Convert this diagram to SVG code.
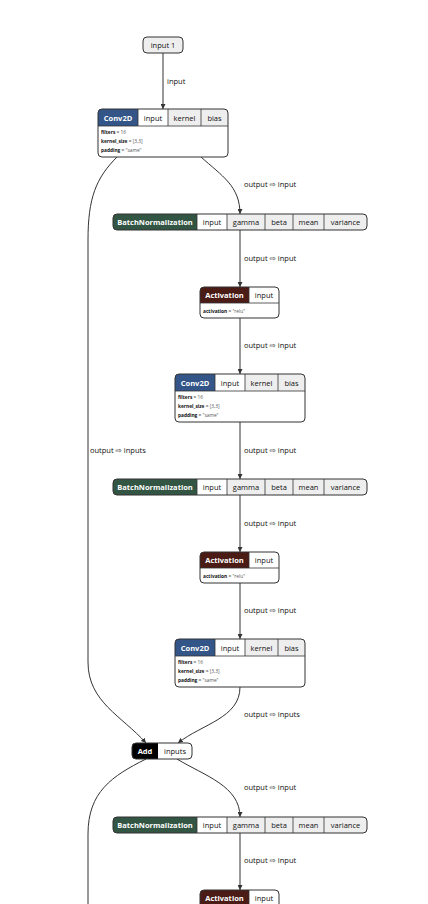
<svg xmlns="http://www.w3.org/2000/svg" width="428" height="904" viewBox="0 0 428 904">
  <style>
    text { font-family: "Open Sans", "Noto Sans", "DejaVu Sans", sans-serif; }
    .border { fill: none; stroke: #333; stroke-width: 1; }
    .hdr { font-size: 7.5px; font-weight: bold; fill: #fff; text-anchor: middle; }
    .cell { font-size: 7.5px; fill: #111; text-anchor: middle; }
    .in { fill: #fff; }
    .const { fill: #eee; }
    .sep { stroke: #333; stroke-width: 0.8; }
    .attr { font-size: 4.8px; fill: #555; }
    .attr tspan.k { font-weight: bold; fill: #111; }
    .edge { fill: none; stroke: #333; stroke-width: 1; }
    .lbl { font-size: 7.5px; fill: #111; }
    .conv { fill: #335588; }
    .bn { fill: #335544; }
    .act { fill: #4b1b16; }
    .add { fill: #000; }
  </style>
  <defs>
    <marker id="arrow" viewBox="0 0 10 10" refX="10" refY="5" markerWidth="5" markerHeight="5" orient="auto" markerUnits="userSpaceOnUse">
      <path d="M0,0 L10,5 L0,10 z" fill="#333"/>
    </marker>
    <clipPath id="clip-conv"><rect x="0" y="0" width="130" height="48" rx="4"/></clipPath>
    <clipPath id="clip-bn"><rect x="0" y="0" width="254" height="16" rx="4"/></clipPath>
    <clipPath id="clip-act"><rect x="0" y="0" width="79" height="31" rx="4"/></clipPath>
    <clipPath id="clip-add"><rect x="0" y="0" width="60" height="16" rx="4"/></clipPath>

    <!-- Conv2D block: header cells plus attribute list -->
    <g id="conv-body">
      <g clip-path="url(#clip-conv)">
        <rect x="0" y="0" width="130" height="48" fill="#fff"/>
        <rect class="conv" x="0" y="0" width="40" height="17"/>
        <rect class="in" x="40" y="0" width="30" height="17"/>
        <rect class="const" x="70" y="0" width="33" height="17"/>
        <rect class="const" x="103" y="0" width="27" height="17"/>
        <line class="sep" x1="40" y1="0" x2="40" y2="17"/>
        <line class="sep" x1="70" y1="0" x2="70" y2="17"/>
        <line class="sep" x1="103" y1="0" x2="103" y2="17"/>
        <line class="sep" x1="0" y1="17" x2="130" y2="17"/>
      </g>
      <rect class="border" x="0" y="0" width="130" height="48" rx="4"/>
      <text class="hdr" x="20" y="11.5">Conv2D</text>
      <text class="cell" x="55" y="11.5">input</text>
      <text class="cell" x="86.5" y="11.5">kernel</text>
      <text class="cell" x="116.5" y="11.5">bias</text>
      <text class="attr" x="3" y="25"><tspan class="k">filters</tspan> = 16</text>
      <text class="attr" x="3" y="34"><tspan class="k">kernel_size</tspan> = [3,3]</text>
      <text class="attr" x="3" y="43"><tspan class="k">padding</tspan> = "same"</text>
    </g>

    <!-- BatchNormalization block -->
    <g id="bn-body">
      <g clip-path="url(#clip-bn)">
        <rect class="bn" x="0" y="0" width="84" height="16"/>
        <rect class="in" x="84" y="0" width="30" height="16"/>
        <rect class="const" x="114" y="0" width="140" height="16"/>
        <line class="sep" x1="84" y1="0" x2="84" y2="16"/>
        <line class="sep" x1="114" y1="0" x2="114" y2="16"/>
        <line class="sep" x1="152" y1="0" x2="152" y2="16"/>
        <line class="sep" x1="180" y1="0" x2="180" y2="16"/>
        <line class="sep" x1="211" y1="0" x2="211" y2="16"/>
      </g>
      <rect class="border" x="0" y="0" width="254" height="16" rx="4"/>
      <text class="hdr" x="42" y="11">BatchNormalization</text>
      <text class="cell" x="99" y="11">input</text>
      <text class="cell" x="133" y="11">gamma</text>
      <text class="cell" x="166" y="11">beta</text>
      <text class="cell" x="195.5" y="11">mean</text>
      <text class="cell" x="232.5" y="11">variance</text>
    </g>

    <!-- Activation block -->
    <g id="act-body">
      <g clip-path="url(#clip-act)">
        <rect x="0" y="0" width="79" height="31" fill="#fff"/>
        <rect class="act" x="0" y="0" width="49" height="16"/>
        <rect class="in" x="49" y="0" width="30" height="16"/>
        <line class="sep" x1="49" y1="0" x2="49" y2="16"/>
        <line class="sep" x1="0" y1="16" x2="79" y2="16"/>
      </g>
      <rect class="border" x="0" y="0" width="79" height="31" rx="4"/>
      <text class="hdr" x="24.5" y="11">Activation</text>
      <text class="cell" x="64" y="11">input</text>
      <text class="attr" x="3" y="25.5"><tspan class="k">activation</tspan> = "relu"</text>
    </g>
  </defs>

  <rect width="428" height="904" fill="#fff"/>

  <!-- connectors -->
  <g id="edges">
    <path class="edge" d="M163,53 L163,109" marker-end="url(#arrow)"/>
    <text class="lbl" x="167" y="84">input</text>

    <path class="edge" d="M201,157 C222,176 240,186 240,214" marker-end="url(#arrow)"/>
    <text class="lbl" x="244" y="187">output ⇨ input</text>

    <path class="edge" d="M117,157 C96,178 88,198 88,240 L88,662 C88,702 122,716 146,743" marker-end="url(#arrow)"/>
    <text class="lbl" x="90" y="453">output ⇨ inputs</text>

    <path class="edge" d="M240,230 L240,287" marker-end="url(#arrow)"/>
    <text class="lbl" x="244" y="261">output ⇨ input</text>

    <path class="edge" d="M240,318 L240,374" marker-end="url(#arrow)"/>
    <text class="lbl" x="244" y="348">output ⇨ input</text>

    <path class="edge" d="M240,422 L240,479" marker-end="url(#arrow)"/>
    <text class="lbl" x="244" y="453">output ⇨ input</text>

    <path class="edge" d="M240,495 L240,552" marker-end="url(#arrow)"/>
    <text class="lbl" x="244" y="526">output ⇨ input</text>

    <path class="edge" d="M240,583 L240,639" marker-end="url(#arrow)"/>
    <text class="lbl" x="244" y="613">output ⇨ input</text>

    <path class="edge" d="M240,687 C240,718 202,724 178,743" marker-end="url(#arrow)"/>
    <text class="lbl" x="244" y="717">output ⇨ inputs</text>

    <path class="edge" d="M177,759 C205,776 240,786 240,817" marker-end="url(#arrow)"/>
    <text class="lbl" x="244" y="790">output ⇨ input</text>

    <path class="edge" d="M146,759 C112,776 88,792 88,834 L88,904"/>

    <path class="edge" d="M240,833 L240,890" marker-end="url(#arrow)"/>
    <text class="lbl" x="244" y="863">output ⇨ input</text>
  </g>

  <!-- nodes -->
  <g id="node-input1">
    <rect x="143" y="37" width="40" height="16" rx="4" fill="#eee" stroke="#333" stroke-width="1"/>
    <text class="cell" x="163" y="48">input 1</text>
  </g>

  <g id="node-conv2d-1" transform="translate(98,109)"><use href="#conv-body"/></g>
  <g id="node-bn-1" transform="translate(113,214)"><use href="#bn-body"/></g>
  <g id="node-act-1" transform="translate(200,287)"><use href="#act-body"/></g>
  <g id="node-conv2d-2" transform="translate(175,374)"><use href="#conv-body"/></g>
  <g id="node-bn-2" transform="translate(113,479)"><use href="#bn-body"/></g>
  <g id="node-act-2" transform="translate(200,552)"><use href="#act-body"/></g>
  <g id="node-conv2d-3" transform="translate(175,639)"><use href="#conv-body"/></g>

  <g id="node-add" transform="translate(132,743)">
    <g clip-path="url(#clip-add)">
      <rect class="add" x="0" y="0" width="26" height="16"/>
      <rect class="in" x="26" y="0" width="34" height="16"/>
    </g>
    <rect class="border" x="0" y="0" width="60" height="16" rx="4"/>
    <text class="hdr" x="13" y="11">Add</text>
    <text class="cell" x="43" y="11">inputs</text>
  </g>

  <g id="node-bn-3" transform="translate(113,817)"><use href="#bn-body"/></g>
  <g id="node-act-3" transform="translate(200,890)"><use href="#act-body"/></g>
</svg>
